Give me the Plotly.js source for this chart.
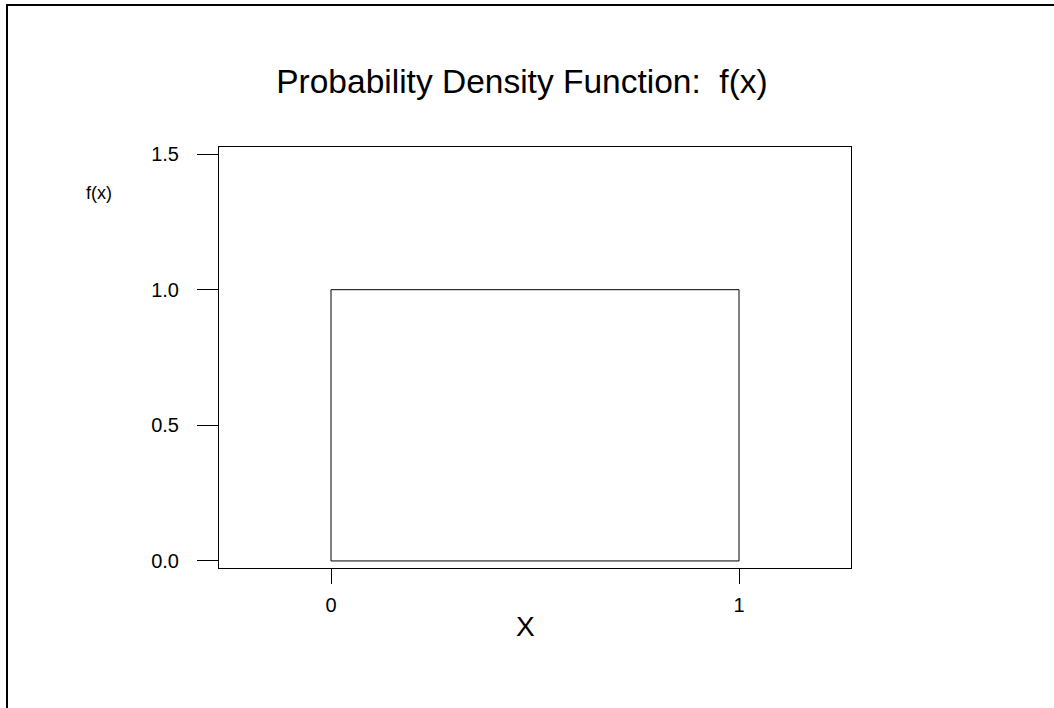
<!DOCTYPE html>
<html>
<head>
<meta charset="utf-8">
<script src="https://cdn.plot.ly/plotly-3.0.1.min.js"></script>
<style>html,body{margin:0;padding:0;background:#fff;}#chart{width:1054px;height:708px;}</style>
</head>
<body>
<div id="chart"></div>
<script>
// Uniform(0,1) density outline
const pdfX = [0, 0, 1, 1, 0];
const pdfY = [0, 1, 1, 0, 0];
const xTickVals = [0, 1];
const xTickText = ["0", "1"];
const yTickVals = [0, 0.5, 1.0, 1.5];
const yTickText = ["0.0", "0.5", "1.0", "1.5"];
const titleText = "Probability Density Function:  f(x)";
const xTitle = "X";
const yTitle = "f(x)";

const W = 1054, H = 708;
const L = 219, R = 851, T = 147, B = 568;
const pw = R - L, ph = B - T;
const px = v => (v - L) / pw;
const py = v => (B - v) / ph;

const font = "Liberation Sans, Arial, sans-serif";

const trace = {
  x: pdfX, y: pdfY, type: "scatter", mode: "lines",
  line: {color: "#000", width: 1}, hoverinfo: "skip", showlegend: false
};

const layout = {
  width: W, height: H,
  margin: {l: L, r: W - R, t: T, b: H - B, pad: 0},
  paper_bgcolor: "#fff", plot_bgcolor: "#fff",
  font: {family: font, color: "#000"},
  showlegend: false,
  title: {text: titleText, font: {family: font, size: 33.5, color: "#000"},
          x: 522 / W, xanchor: "center", y: 1 - 81 / H, yanchor: "middle", xref: "container", yref: "container"},
  xaxis: {
    range: [-0.2745, 1.2745], tickmode: "array", tickvals: xTickVals, ticktext: xTickText,
    ticks: "outside", ticklen: 15, tickwidth: 1, tickcolor: "#000", ticklabelstandoff: 4,
    showline: true, mirror: true, linecolor: "#000", linewidth: 1,
    showgrid: false, zeroline: false, tickfont: {family: font, size: 20, color: "#000"}
  },
  yaxis: {
    range: [-0.026, 1.526], tickmode: "array", tickvals: yTickVals, ticktext: yTickText,
    ticks: "outside", ticklen: 21, tickwidth: 1, tickcolor: "#000", ticklabelstandoff: 14,
    showline: true, mirror: true, linecolor: "#000", linewidth: 1,
    showgrid: false, zeroline: false, tickfont: {family: font, size: 20, color: "#000"}
  },
  annotations: [
    {text: xTitle, xref: "paper", yref: "paper", x: px(525), y: py(626), xanchor: "center", yanchor: "middle",
     showarrow: false, font: {family: font, size: 28, color: "#000"}},
    {text: yTitle, xref: "paper", yref: "paper", x: px(99), y: py(193), xanchor: "center", yanchor: "middle",
     showarrow: false, font: {family: font, size: 18, color: "#000"}}
  ],
  shapes: [
    {type: "line", xref: "paper", yref: "paper", x0: px(7), x1: px(7), y0: py(720), y1: py(5),
     line: {color: "#000", width: 2}},
    {type: "line", xref: "paper", yref: "paper", x0: px(6), x1: px(1070), y0: py(5), y1: py(5),
     line: {color: "#000", width: 2}}
  ]
};

Plotly.newPlot("chart", [trace], layout, {displayModeBar: false, staticPlot: true});
</script>
</body>
</html>
